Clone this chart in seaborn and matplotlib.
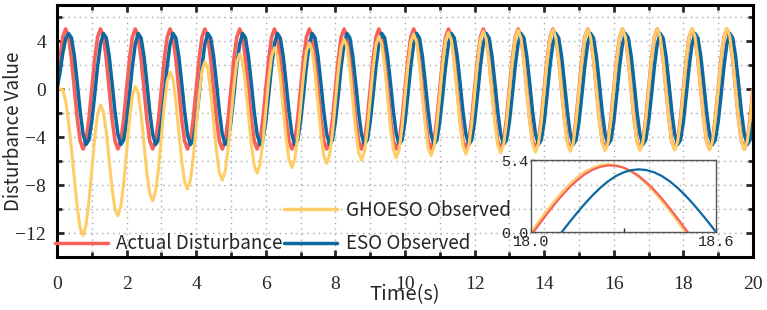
import numpy as np
import seaborn as sns
import matplotlib.pyplot as plt
from matplotlib.lines import Line2D
from matplotlib.ticker import MultipleLocator
from matplotlib.font_manager import FontProperties

# sample times of the main plot (12 samples per second)
time = np.linspace(0, 20, 241)

actual = [
    0, 2.5, 4.33, 5, 4.33, 2.5, 0, -2.5, -4.33, -5, -4.33, -2.5,
    0, 2.5, 4.33, 5, 4.33, 2.5, 0, -2.5, -4.33, -5, -4.33, -2.5,
    0, 2.5, 4.33, 5, 4.33, 2.5, 0, -2.5, -4.33, -5, -4.33, -2.5,
    0, 2.5, 4.33, 5, 4.33, 2.5, 0, -2.5, -4.33, -5, -4.33, -2.5,
    0, 2.5, 4.33, 5, 4.33, 2.5, 0, -2.5, -4.33, -5, -4.33, -2.5,
    0, 2.5, 4.33, 5, 4.33, 2.5, 0, -2.5, -4.33, -5, -4.33, -2.5,
    0, 2.5, 4.33, 5, 4.33, 2.5, 0, -2.5, -4.33, -5, -4.33, -2.5,
    0, 2.5, 4.33, 5, 4.33, 2.5, 0, -2.5, -4.33, -5, -4.33, -2.5,
    0, 2.5, 4.33, 5, 4.33, 2.5, 0, -2.5, -4.33, -5, -4.33, -2.5,
    0, 2.5, 4.33, 5, 4.33, 2.5, 0, -2.5, -4.33, -5, -4.33, -2.5,
    0, 2.5, 4.33, 5, 4.33, 2.5, 0, -2.5, -4.33, -5, -4.33, -2.5,
    0, 2.5, 4.33, 5, 4.33, 2.5, 0, -2.5, -4.33, -5, -4.33, -2.5,
    0, 2.5, 4.33, 5, 4.33, 2.5, 0, -2.5, -4.33, -5, -4.33, -2.5,
    0, 2.5, 4.33, 5, 4.33, 2.5, 0, -2.5, -4.33, -5, -4.33, -2.5,
    0, 2.5, 4.33, 5, 4.33, 2.5, 0, -2.5, -4.33, -5, -4.33, -2.5,
    0, 2.5, 4.33, 5, 4.33, 2.5, 0, -2.5, -4.33, -5, -4.33, -2.5,
    0, 2.5, 4.33, 5, 4.33, 2.5, 0, -2.5, -4.33, -5, -4.33, -2.5,
    0, 2.5, 4.33, 5, 4.33, 2.5, 0, -2.5, -4.33, -5, -4.33, -2.5,
    0, 2.5, 4.33, 5, 4.33, 2.5, 0, -2.5, -4.33, -5, -4.33, -2.5,
    0, 2.5, 4.33, 5, 4.33, 2.5, 0, -2.5, -4.33, -5, -4.33, -2.5,
    0,
]

eso = [
    0, 1.3, 3.0, 4.2, 4.62, 4.25, 2.73, 0.49, -1.89, -3.76, -4.63, -4.25,
    -2.73, -0.49, 1.89, 3.76, 4.63, 4.25, 2.73, 0.49, -1.89, -3.76, -4.63, -4.25,
    -2.73, -0.49, 1.89, 3.76, 4.63, 4.25, 2.73, 0.49, -1.89, -3.76, -4.63, -4.25,
    -2.73, -0.49, 1.89, 3.76, 4.63, 4.25, 2.73, 0.49, -1.89, -3.76, -4.63, -4.25,
    -2.73, -0.49, 1.89, 3.76, 4.63, 4.25, 2.73, 0.49, -1.89, -3.76, -4.63, -4.25,
    -2.73, -0.49, 1.89, 3.76, 4.63, 4.25, 2.73, 0.49, -1.89, -3.76, -4.63, -4.25,
    -2.73, -0.49, 1.89, 3.76, 4.63, 4.25, 2.73, 0.49, -1.89, -3.76, -4.63, -4.25,
    -2.73, -0.49, 1.89, 3.76, 4.63, 4.25, 2.73, 0.49, -1.89, -3.76, -4.63, -4.25,
    -2.73, -0.49, 1.89, 3.76, 4.63, 4.25, 2.73, 0.49, -1.89, -3.76, -4.63, -4.25,
    -2.73, -0.49, 1.89, 3.76, 4.63, 4.25, 2.73, 0.49, -1.89, -3.76, -4.63, -4.25,
    -2.73, -0.49, 1.89, 3.76, 4.63, 4.25, 2.73, 0.49, -1.89, -3.76, -4.63, -4.25,
    -2.73, -0.49, 1.89, 3.76, 4.63, 4.25, 2.73, 0.49, -1.89, -3.76, -4.63, -4.25,
    -2.73, -0.49, 1.89, 3.76, 4.63, 4.25, 2.73, 0.49, -1.89, -3.76, -4.63, -4.25,
    -2.73, -0.49, 1.89, 3.76, 4.63, 4.25, 2.73, 0.49, -1.89, -3.76, -4.63, -4.25,
    -2.73, -0.49, 1.89, 3.76, 4.63, 4.25, 2.73, 0.49, -1.89, -3.76, -4.63, -4.25,
    -2.73, -0.49, 1.89, 3.76, 4.63, 4.25, 2.73, 0.49, -1.89, -3.76, -4.63, -4.25,
    -2.73, -0.49, 1.89, 3.76, 4.63, 4.25, 2.73, 0.49, -1.89, -3.76, -4.63, -4.25,
    -2.73, -0.49, 1.89, 3.76, 4.63, 4.25, 2.73, 0.49, -1.89, -3.76, -4.63, -4.25,
    -2.73, -0.49, 1.89, 3.76, 4.63, 4.25, 2.73, 0.49, -1.89, -3.76, -4.63, -4.25,
    -2.73, -0.49, 1.89, 3.76, 4.63, 4.25, 2.73, 0.49, -1.89, -3.76, -4.63, -4.25,
    -2.73,
]

ghoeso = [
    0, 0, -0.07, -1.0, -2.8, -5.0, -7.5, -9.9, -11.63, -12.2, -11.38, -9.40,
    -6.75, -4.11, -2.14, -1.33, -1.87, -3.57, -5.94, -8.32, -10.02, -10.57, -9.78, -7.84,
    -5.23, -2.52, -0.53, 0.22, -0.35, -2.10, -4.60, -7.00, -8.74, -9.31, -8.55, -6.63,
    -4.04, -1.36, 0.66, 1.41, 0.82, -1.03, -3.56, -5.98, -7.74, -8.34, -7.60, -5.70,
    -3.13, -0.46, 1.53, 2.26, 1.66, -0.21, -2.75, -5.20, -6.97, -7.58, -6.86, -4.98,
    -2.42, 0.23, 2.21, 2.93, 2.31, 0.42, -2.13, -4.59, -6.37, -7.00, -6.29, -4.42,
    -1.87, 0.77, 2.73, 3.44, 2.81, 0.92, -1.65, -4.11, -5.91, -6.55, -5.84, -3.98,
    -1.45, 1.18, 3.14, 3.84, 3.20, 1.30, -1.28, -3.75, -5.55, -6.20, -5.50, -3.65,
    -1.12, 1.50, 3.46, 4.15, 3.50, 1.59, -0.99, -3.47, -5.28, -5.93, -5.24, -3.39,
    -0.87, 1.75, 3.70, 4.39, 3.73, 1.82, -0.76, -3.25, -5.06, -5.72, -5.03, -3.19,
    -0.67, 1.94, 3.89, 4.57, 3.91, 2.00, -0.59, -3.08, -4.90, -5.55, -4.87, -3.03,
    -0.52, 2.09, 4.03, 4.71, 4.05, 2.13, -0.46, -2.95, -4.77, -5.43, -4.75, -2.91,
    -0.40, 2.21, 4.15, 4.82, 4.16, 2.24, -0.35, -2.85, -4.67, -5.33, -4.66, -2.82,
    -0.31, 2.30, 4.23, 4.91, 4.24, 2.32, -0.27, -2.77, -4.59, -5.26, -4.58, -2.75,
    -0.24, 2.36, 4.28, 4.95, 4.29, 2.38, -0.21, -2.71, -4.53, -5.20, -4.53, -2.69,
    -0.19, 2.40, 4.31, 4.99, 4.32, 2.41, -0.16, -2.66, -4.49, -5.15, -4.48, -2.65,
    -0.14, 2.42, 4.33, 5.01, 4.34, 2.43, -0.13, -2.62, -4.45, -5.12, -4.45, -2.61,
    -0.11, 2.44, 4.35, 5.02, 4.36, 2.45, -0.10, -2.60, -4.42, -5.09, -4.42, -2.59,
    -0.09, 2.46, 4.37, 5.04, 4.37, 2.46, -0.08, -2.57, -4.40, -5.07, -4.40, -2.57,
    -0.07, 2.47, 4.38, 5.05, 4.39, 2.48, -0.06, -2.56, -4.39, -5.06, -4.39, -2.55,
    -0.05,
]

# zoomed window 18.0 - 18.6 s
zoom_time = np.linspace(18.0, 18.6, 25)
zoom_actual = [-0.25, 0.53, 1.30, 2.04, 2.73, 3.35, 3.89, 4.34, 4.67, 4.89, 4.99, 4.97, 4.83,
               4.56, 4.19, 3.71, 3.14, 2.49, 1.78, 1.03, 0.25, -0.53, -1.30, -2.04, -2.73]
zoom_eso = [-2.76, -2.13, -1.45, -0.74, 0, 0.74, 1.45, 2.13, 2.76, 3.32, 3.80, 4.19, 4.47,
            4.64, 4.70, 4.64, 4.47, 4.19, 3.80, 3.32, 2.76, 2.13, 1.45, 0.74, 0]
zoom_ghoeso = [0, 0.79, 1.57, 2.31, 2.99, 3.59, 4.11, 4.53, 4.83, 5.02, 5.08, 5.02, 4.83,
               4.53, 4.11, 3.59, 2.99, 2.31, 1.57, 0.79, 0, -0.79, -1.57, -2.31, -2.99]

x_ticks = [0, 2, 4, 6, 8, 10, 12, 14, 16, 18, 20]
x_labels = ["0", "2", "4", "6", "8", "10", "12", "14", "16", "18", "20"]
y_ticks = [-12, -8, -4, 0, 4]
y_labels = ["\u221212", "\u22128", "\u22124", "0", "4"]
zoom_xticks = [18.0, 18.6]
zoom_xlabels = ["18.0", "18.6"]
zoom_yticks = [0, 5.4]
zoom_ylabels = ["0.0", "5.4"]

red = "#F8605A"
blue = "#0B68A0"
yellow = "#FFCD66"

sns.set_style("ticks")
plt.rcParams["font.family"] = ["Noto Sans CJK SC", "DejaVu Sans"]

tick_font = FontProperties(family="Liberation Serif", size=14)
inset_font = FontProperties(family="Liberation Mono", size=11)

fig = plt.figure(figsize=(7.67, 3.10), dpi=100)
ax = fig.add_axes([57 / 767, 1 - 257 / 310, 696 / 767, 252 / 310])

sns.lineplot(x=time, y=actual, color=red, lw=2.6, ax=ax, estimator=None, sort=False)
sns.lineplot(x=time, y=eso, color=blue, lw=2.5, ax=ax, estimator=None, sort=False)
sns.lineplot(x=time, y=ghoeso, color=yellow, lw=2.2, ax=ax, estimator=None, sort=False)

ax.set_xlim(0, 20)
ax.set_ylim(-14, 7)
ax.set_xticks(x_ticks, labels=x_labels)
ax.set_yticks(y_ticks, labels=y_labels)
for lbl in ax.get_xticklabels() + ax.get_yticklabels():
    lbl.set_fontproperties(tick_font)
ax.xaxis.set_minor_locator(MultipleLocator(1))
ax.yaxis.set_minor_locator(MultipleLocator(2))
ax.grid(which="both", ls=(0, (1, 3)), color="#a8a8a8", lw=1.0)
ax.tick_params(which="both", direction="in", top=True, right=True, width=2)
ax.tick_params(which="major", length=5)
ax.tick_params(which="minor", length=3.5)
ax.tick_params(axis="x", pad=14)
ax.tick_params(axis="y", pad=8)
for s in ax.spines.values():
    s.set_linewidth(2.2)
    s.set_color("black")

ax.set_xlabel("Time(s)", fontsize=14.5)
ax.xaxis.set_label_coords(0.5, -0.107)
ax.set_ylabel("Disturbance Value", fontsize=13.5)
ax.yaxis.set_label_coords(-0.047, 0.5)

# legend: matlab style layout, empty slot top-left
blank = Line2D([], [], color="none")
h_act = Line2D([], [], color=red, lw=2.5)
h_gho = Line2D([], [], color=yellow, lw=2.5)
h_eso = Line2D([], [], color=blue, lw=2.5)
ax.legend([blank, h_act, h_gho, h_eso],
          [" ", "Actual Disturbance", "GHOESO Observed", "ESO Observed"],
          ncol=2, frameon=False, fontsize=13.5, handlelength=2.83, handletextpad=0.45,
          columnspacing=0.08, labelspacing=0.65, borderpad=0, borderaxespad=0,
          loc="upper left", bbox_to_anchor=(55 / 767, 1 - 200 / 310),
          bbox_transform=fig.transFigure)

# inset
axin = fig.add_axes([531 / 767, 1 - 232 / 310, 185 / 767, 72 / 310])
axin.patch.set_alpha(0)
sns.lineplot(x=zoom_time, y=zoom_ghoeso, color=yellow, lw=1.6, ax=axin, estimator=None, sort=False)
sns.lineplot(x=zoom_time, y=zoom_actual, color=red, lw=1.6, ax=axin, estimator=None, sort=False)
sns.lineplot(x=zoom_time, y=zoom_eso, color=blue, lw=1.6, ax=axin, estimator=None, sort=False)
axin.set_xlim(18.0, 18.6)
axin.set_ylim(0, 5.4)
axin.set_xticks(zoom_xticks, labels=zoom_xlabels)
axin.set_yticks(zoom_yticks, labels=zoom_ylabels)
for lbl in axin.get_xticklabels() + axin.get_yticklabels():
    lbl.set_fontproperties(inset_font)
axin.xaxis.set_minor_locator(MultipleLocator(0.3))
axin.tick_params(which="both", direction="in", length=3, width=1)
axin.tick_params(axis="x", pad=2.5)
axin.tick_params(axis="y", pad=1.5)
for s in axin.spines.values():
    s.set_linewidth(1.0)
    s.set_color("#555555")

fig.savefig("out.png", dpi=100)
